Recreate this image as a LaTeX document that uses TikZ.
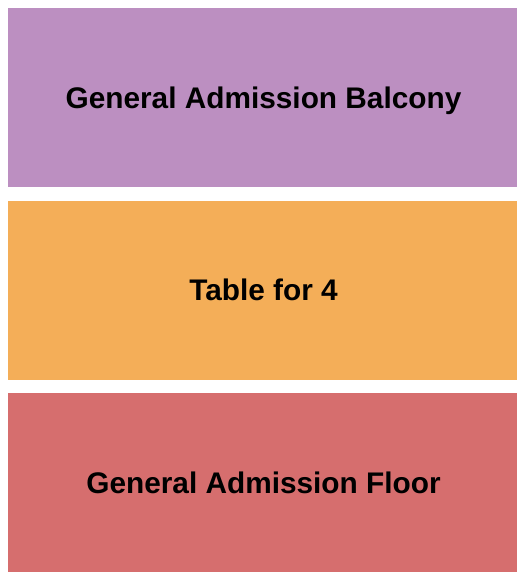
\documentclass[tikz,border=0pt]{standalone}
\usepackage{fontspec}
\setmainfont{Liberation Sans}
\definecolor{balc}{RGB}{188,143,193}
\definecolor{tabl}{RGB}{244,174,88}
\definecolor{flor}{RGB}{214,110,110}
\begin{document}
\begin{tikzpicture}[x=1pt,y=-1pt,
  sect/.style={inner sep=0pt,anchor=base,font=\fontsize{29.8}{34}\selectfont\bfseries,text=black}]
\useasboundingbox (0,0) rectangle (525,580);
\fill[balc] (8,8) rectangle (517,187);
\fill[tabl] (8,201) rectangle (517,380);
\fill[flor] (8,393) rectangle (517,572);
\node[sect] (b) at (263.5,108.5) {General Admission Balcony};
\node[sect] (t) at (263.5,300) {Table for 4};
\node[sect] (f) at (263.5,493) {General Admission Floor};
\end{tikzpicture}
\end{document}
